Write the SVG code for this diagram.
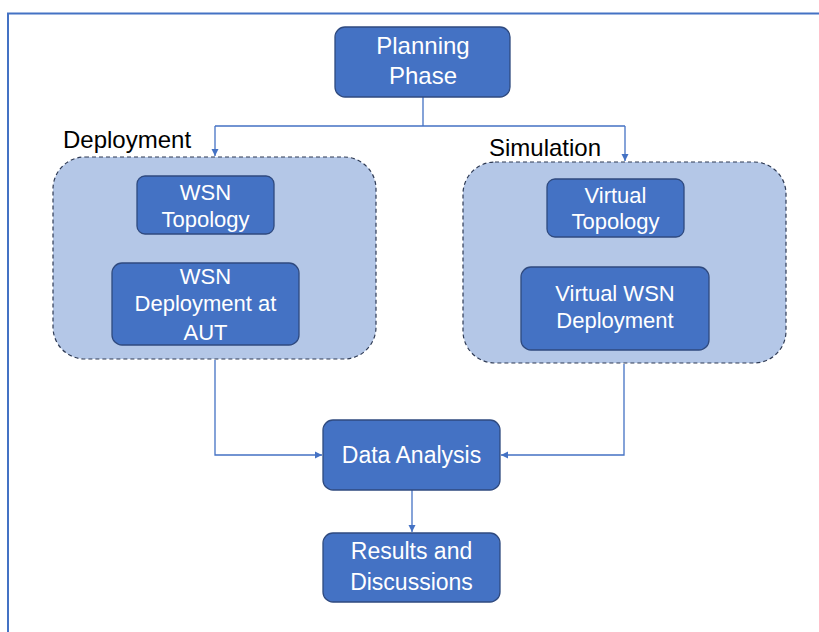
<svg xmlns="http://www.w3.org/2000/svg" width="819" height="632" viewBox="0 0 819 632">
  <defs>
    <style>
      .frame { fill: none; stroke: #4472C4; stroke-width: 2; }
      .box { fill: #4472C4; stroke: #2F4A7F; stroke-width: 1.3; }
      .grp { fill: #B4C7E7; stroke: #2F3B55; stroke-width: 1.2; stroke-dasharray: 4 3; }
      .t { font-family: "Liberation Sans", Arial, sans-serif; font-size: 22px; fill: #FFFFFF; text-anchor: middle; }
      .big { font-size: 23px; }
      .lbl { font-family: "Liberation Sans", Arial, sans-serif; font-size: 24px; fill: #000000; }
      .conn { fill: none; stroke: #4472C4; stroke-width: 1.3; }
    </style>
    <marker id="arr" markerWidth="8" markerHeight="8" refX="7" refY="4" orient="auto" markerUnits="userSpaceOnUse">
      <path d="M0,0.5 L7,4 L0,7.5 Z" fill="#4472C4"/>
    </marker>
  </defs>
  <rect width="819" height="632" fill="#FFFFFF"/>
  <path class="frame" d="M8,640 L8,13.5 L830,13.5"/>

  <g id="group-deployment">
    <rect class="grp" x="53" y="157" width="323" height="202" rx="32"/>
    <text class="lbl" x="63" y="148">Deployment</text>
  </g>
  <g id="group-simulation">
    <rect class="grp" x="463" y="162" width="323" height="201" rx="32"/>
    <text class="lbl" x="489" y="156">Simulation</text>
  </g>

  <g id="connectors">
    <path class="conn" d="M423,97 L423,126 M215,126 L625,126"/>
    <path class="conn" d="M215,126 L215,156" marker-end="url(#arr)"/>
    <path class="conn" d="M625,126 L625,161" marker-end="url(#arr)"/>
    <path class="conn" d="M215,360 L215,455 L322,455" marker-end="url(#arr)"/>
    <path class="conn" d="M624,364 L624,455 L501,455" marker-end="url(#arr)"/>
    <path class="conn" d="M412,490 L412,532" marker-end="url(#arr)"/>
  </g>

  <g id="planning-phase">
    <rect class="box" x="335" y="27" width="175" height="70" rx="10"/>
    <text class="t big" x="423" y="54" style="font-size:24px">Planning</text>
    <text class="t big" x="423" y="84" style="font-size:24px">Phase</text>
  </g>
  <g id="wsn-topology">
    <rect class="box" x="137" y="176" width="137" height="58" rx="8"/>
    <text class="t" x="205.5" y="199.5">WSN</text>
    <text class="t" x="205.5" y="226.5">Topology</text>
  </g>
  <g id="wsn-deployment">
    <rect class="box" x="112" y="263" width="187" height="82" rx="10"/>
    <text class="t" x="205.5" y="283.5">WSN</text>
    <text class="t" x="205.5" y="311">Deployment at</text>
    <text class="t" x="205.5" y="339.5">AUT</text>
  </g>
  <g id="virtual-topology">
    <rect class="box" x="547" y="179" width="137" height="58" rx="8"/>
    <text class="t" x="615.5" y="202.5">Virtual</text>
    <text class="t" x="615.5" y="229">Topology</text>
  </g>
  <g id="virtual-wsn-deployment">
    <rect class="box" x="521" y="267" width="188" height="83" rx="10"/>
    <text class="t" x="615" y="300.5">Virtual WSN</text>
    <text class="t" x="615" y="328">Deployment</text>
  </g>
  <g id="data-analysis">
    <rect class="box" x="323" y="420" width="177" height="70" rx="10"/>
    <text class="t big" x="411.5" y="463">Data Analysis</text>
  </g>
  <g id="results">
    <rect class="box" x="323" y="533" width="177" height="69" rx="10"/>
    <text class="t big" x="411.5" y="558.5">Results and</text>
    <text class="t big" x="411.5" y="590">Discussions</text>
  </g>
</svg>
